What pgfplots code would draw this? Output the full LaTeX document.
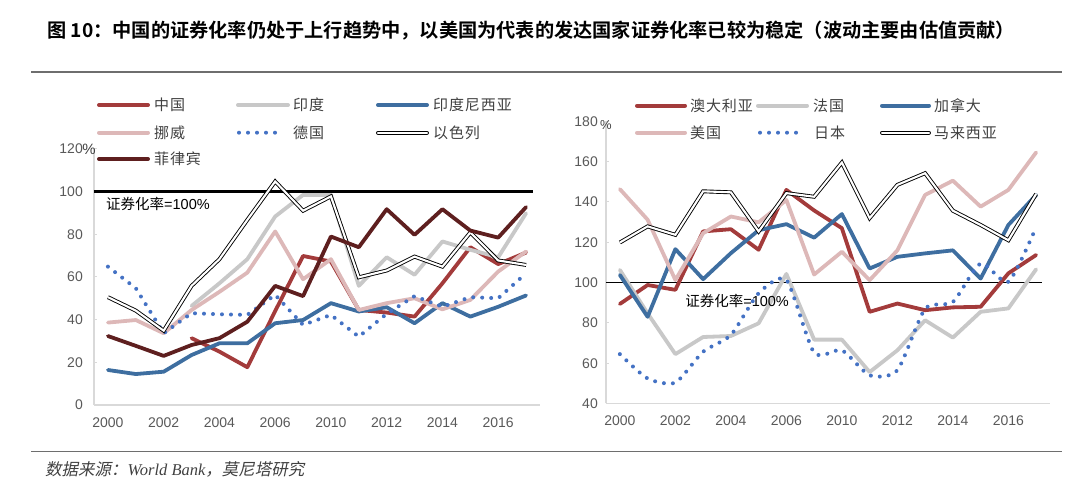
\documentclass[border=0pt]{standalone}
\usepackage{pgfplots}
\pgfplotsset{compat=1.18}
\usepackage{pgfplotstable}
\usepackage{fontspec}
\setmainfont{Liberation Sans}
\newfontfamily\cjk{Noto Sans CJK SC}[BoldFont={Noto Sans CJK SC Bold}]
\newfontfamily\cjkleg{Noto Sans CJK SC}[LetterSpace=6]
\newfontfamily\cjkit{Noto Sans CJK SC}[FakeSlant=0.2]
\newfontfamily\serifrm{Liberation Serif}

\definecolor{cred}{RGB}{163,59,59}
\definecolor{cgray}{RGB}{200,200,200}
\definecolor{cblue}{RGB}{62,110,160}
\definecolor{cpink}{RGB}{221,184,184}
\definecolor{cdot}{RGB}{68,114,196}
\definecolor{cmaroon}{RGB}{94,31,31}
\definecolor{axgray}{RGB}{217,217,217}
\definecolor{tickgray}{RGB}{89,89,89}
\definecolor{rulegray}{RGB}{110,110,110}
\definecolor{txtgray}{RGB}{64,64,64}

% left chart: index 0..15 = 2000..2007, 2010..2017
\pgfplotstableread{
i  china india indonesia norway germany israel philippines
0  nan   nan   16.4 38.6 64.8 50.5 32.3
1  nan   nan   14.5 39.8 54.7 44.2 27.7
2  nan   nan   15.6 33.6 33.6 34.8 23.0
3  31.3  46.4  23.4 44.5 43.0 55.8 28.1
4  25.0  57.0  28.9 53.0 42.5 68.3 31.3
5  17.7  68.3  28.9 62.0 42.2 86.7 39.0
6  44.0  88.3  38.3 81.3 51.6 104.7 55.8
7  69.8  98.4  39.8 58.9 37.5 91.0 51.0
8  67.2  98.4  47.7 68.3 42.2 97.7 78.9
9  44.5  55.8  43.8 44.5 32.0 59.8 73.9
10 43.3  69.2  45.8 47.7 42.7 63.0 91.7
11 41.4  61.0  38.3 50.0 51.0 69.5 79.7
12 57.0  76.6  47.7 44.8 46.0 64.8 91.7
13 73.9  72.7  41.4 49.2 50.5 80.8 81.7
14 66.0  69.2  46.0 62.5 50.0 67.7 78.4
15 71.4  89.8  51.3 71.9 61.7 65.6 92.7
}\lefttab

\pgfplotstableread{
i  australia france canada us japan malaysia
0  89.4  106.3 103.8 146.4 64.5 119.9
1  98.8  84.7  83.0  131.2 52.4 127.9
2  96.4  64.5  116.6 101.3 50.4 123.7
3  125.4 73.0  101.7 124.5 65.7 145.3
4  126.5 73.5  114.6 132.8 74.0 144.8
5  116.3 79.8  126.0 129.9 94.7 125.4
6  146.0 104.3 129.0 141.0 101.3 144.4
7  135.8 71.7  122.3 104.0 65.2 142.6
8  127.0 71.7  134.0 115.3 66.4 159.6
9  85.5  55.6  107.0 101.2 54.0 132.0
10 89.6  66.4  112.8 116.0 56.5 148.5
11 86.3  81.3  114.5 143.5 87.0 154.3
12 87.7  72.7  116.0 150.6 90.4 135.7
13 88.0  85.5  102.0 137.7 109.5 128.6
14 104.6 87.2  128.6 146.0 100.4 121.0
15 113.7 106.6 143.5 164.6 127.5 144.0
}\righttab

\tikzset{
  ser/.style={line width=3.8pt, line join=round, line cap=round},
  dotl/.style={cdot, line width=4pt, line cap=round, dash pattern=on 0pt off 9pt},
  dbl/.style={draw=black, double=white, line width=0.9pt, double distance=2.1pt, line join=miter},
  legtxt/.style={anchor=west, inner sep=0pt, text=txtgray, font=\fontsize{15}{15}\selectfont\cjkleg},
}

\pgfplotsset{
  chartstyle/.style={
    scale only axis,
    xmin=-0.5, xmax=15.5,
    axis x line*=bottom, axis y line*=left,
    axis line style={draw=axgray, line width=1.6pt, -},
    xtick={0,2,...,14},
    xticklabels={2000,2002,2004,2006,2010,2012,2014,2016},
    xtick style={draw=none},
    ytick style={draw=axgray, line width=1pt},
    tick align=inside,
    major tick length=3pt,
    /pgf/number format/assume math mode=true,
    ticklabel style={font=\fontsize{14}{14}\selectfont, text=tickgray},
    xticklabel style={inner sep=0pt, anchor=north, yshift=-12.5pt},
    unbounded coords=jump,
    clip=false,
  },
}

\begin{document}
\begin{tikzpicture}
\useasboundingbox (0pt,0pt) rectangle (1080pt,485pt);

% title and rules
\node[anchor=base west, inner sep=0pt, text=black] at (47pt,447.5pt)
  {\fontsize{19.2}{20}\selectfont\cjk\bfseries 图 10：中国的证券化率仍处于上行趋势中，以美国为代表的发达国家证券化率已较为稳定（波动主要由估值贡献）};
\draw[rulegray, line width=1.8pt] (31pt,413pt) -- (1062pt,413pt);
\draw[rulegray, line width=1.6pt] (31pt,33.5pt) -- (1062pt,33.5pt);
\node[anchor=west, inner sep=0pt, text=txtgray] at (45pt,16pt)
  {\fontsize{16.5}{17}\selectfont{\cjkit 数据来源：}{\serifrm\itshape World Bank}{\cjkit ，莫尼塔研究}};

% ---------------- left chart ----------------
\begin{axis}[chartstyle,
  at={(94pt,80pt)}, anchor=south west,
  width=446pt, height=256.2pt,
  ymin=0, ymax=120, ytick={0,20,...,120},
  yticklabel style={inner sep=0pt, anchor=east, xshift=-11pt},
]
\addplot[black, line width=2.6pt] coordinates {(-0.5,100) (15.25,100)};
\addplot[ser, cred] table[x=i, y=china] {\lefttab};
\addplot[ser, cgray] table[x=i, y=india] {\lefttab};
\addplot[ser, cblue] table[x=i, y=indonesia] {\lefttab};
\addplot[ser, cpink] table[x=i, y=norway] {\lefttab};
\addplot[dotl] table[x=i, y=germany] {\lefttab};
\addplot[dbl] table[x=i, y=israel] {\lefttab};
\addplot[ser, cmaroon] table[x=i, y=philippines] {\lefttab};
\node[anchor=center, inner sep=0pt, text=txtgray, font=\fontsize{15}{15}\selectfont] at (axis cs:-0.5,120) [xshift=-5pt, yshift=-1pt] {\%};
\node[anchor=west, inner sep=0pt, font=\fontsize{14.5}{14.5}\selectfont, text=black] at (axis cs:-0.07,94.2) {{\cjk 证券化率}=100\%};
\end{axis}

% left legend
\draw[cred, line width=4pt, line cap=round] (99pt,380pt) -- (148pt,380pt);
\node[legtxt] at (154pt,380pt) {中国};
\draw[cgray, line width=4pt, line cap=round] (238pt,380pt) -- (288pt,380pt);
\node[legtxt] at (293pt,380pt) {印度};
\draw[cblue, line width=4pt, line cap=round] (378pt,380pt) -- (427pt,380pt);
\node[legtxt] at (433pt,380pt) {印度尼西亚};
\draw[cpink, line width=4pt, line cap=round] (99pt,352.3pt) -- (148pt,352.3pt);
\node[legtxt] at (154pt,352.3pt) {挪威};
\draw[dotl] (239pt,352.3pt) -- (281pt,352.3pt);
\node[legtxt] at (293pt,352.3pt) {德国};
\draw[dbl, line cap=round] (378pt,352.3pt) -- (427pt,352.3pt);
\node[legtxt] at (433pt,352.3pt) {以色列};
\draw[cmaroon, line width=4pt, line cap=round] (99pt,326pt) -- (148pt,326pt);
\node[legtxt] at (154pt,326pt) {菲律宾};

% ---------------- right chart ----------------
\begin{axis}[chartstyle,
  at={(606pt,81.5pt)}, anchor=south west,
  width=444pt, height=282.1pt,
  ymin=40, ymax=180, ytick={40,60,...,180},
  yticklabel style={inner sep=0pt, anchor=east, xshift=-8pt},
]
\addplot[black, line width=1.4pt] coordinates {(-0.5,100) (15.21,100)};
\addplot[ser, cred] table[x=i, y=australia] {\righttab};
\addplot[ser, cgray] table[x=i, y=france] {\righttab};
\addplot[ser, cblue] table[x=i, y=canada] {\righttab};
\addplot[ser, cpink] table[x=i, y=us] {\righttab};
\addplot[dotl, smooth, tension=0.4] table[x=i, y=japan] {\righttab};
\addplot[dbl] table[x=i, y=malaysia] {\righttab};
\node[anchor=west, inner sep=0pt, text=txtgray, font=\fontsize{13}{13}\selectfont] at (axis cs:-0.5,180) [xshift=-6pt, yshift=-4pt] {\%};
\node[anchor=west, inner sep=0pt, font=\fontsize{14.5}{14.5}\selectfont, text=black] at (axis cs:2.35,91) {{\cjk 证券化率}=100\%};
\end{axis}

% right legend
\draw[cred, line width=4pt, line cap=round] (637pt,379.3pt) -- (685pt,379.3pt);
\node[legtxt] at (690pt,379.3pt) {澳大利亚};
\draw[cgray, line width=4pt, line cap=round] (758pt,379.3pt) -- (807pt,379.3pt);
\node[legtxt] at (813pt,379.3pt) {法国};
\draw[cblue, line width=4pt, line cap=round] (882pt,379.3pt) -- (929pt,379.3pt);
\node[legtxt] at (934pt,379.3pt) {加拿大};
\draw[cpink, line width=4pt, line cap=round] (637pt,352.3pt) -- (685pt,352.3pt);
\node[legtxt] at (690pt,352.3pt) {美国};
\draw[dotl] (760pt,352.3pt) -- (799pt,352.3pt);
\node[legtxt] at (814pt,352.3pt) {日本};
\draw[dbl, line cap=round] (882pt,352.3pt) -- (929pt,352.3pt);
\node[legtxt] at (934pt,352.3pt) {马来西亚};
\end{tikzpicture}
\end{document}
